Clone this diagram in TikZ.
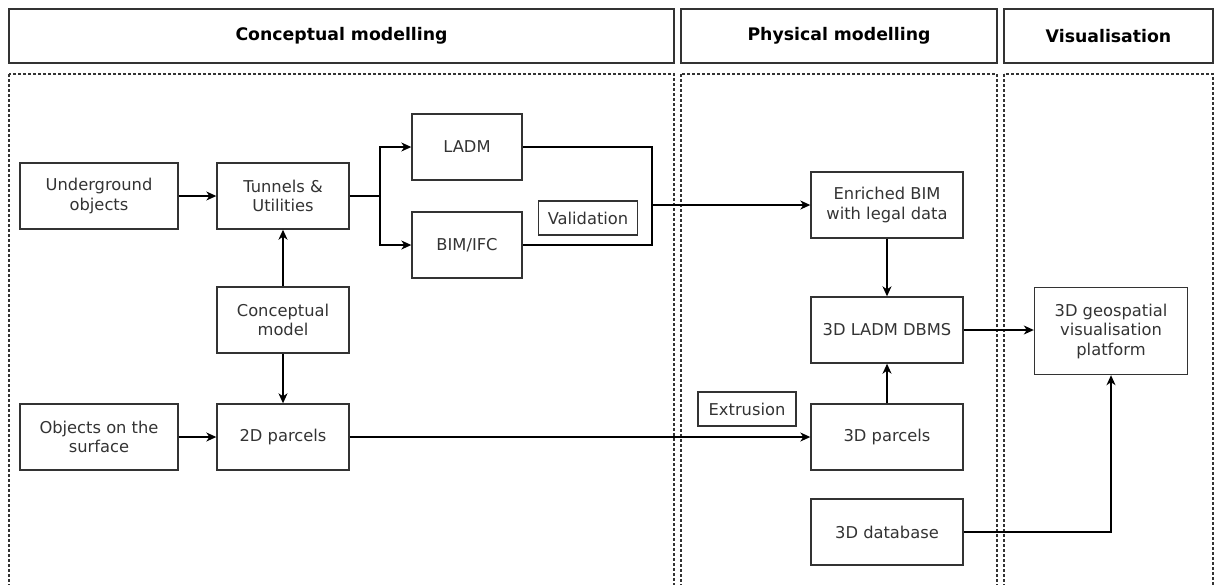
\documentclass[tikz,border=0pt]{standalone}
\usepackage{fontspec}
\setmainfont{DejaVu Sans}
\usetikzlibrary{arrows.meta}
\definecolor{ink}{HTML}{333333}
\tikzset{
  box/.style={draw=ink, line width=1.4pt, text=ink, align=center, inner sep=0pt,
    minimum width=#1, minimum height=66pt, font=\fontsize{16.3}{19.5}\selectfont},
  box/.default=152,
  tag/.style={draw=ink, line width=1.4pt, text=ink, inner sep=0pt,
    minimum width=#1, minimum height=34pt, font=\fontsize{16.3}{19.5}\selectfont},
  hdr/.style={draw=ink, line width=1.5pt, inner sep=0pt, minimum width=#1,
    minimum height=54pt, font=\fontsize{17.3}{20}\selectfont\bfseries},
  lane/.style={draw=ink, line width=1.1pt, dash pattern=on 3pt off 2pt},
  arr/.style={-{Stealth[length=10pt,width=9pt,inset=3pt]}, line width=1.3pt},
  ln/.style={line width=1.3pt}
}
\begin{document}
\begin{tikzpicture}[x=1pt,y=-1pt]
    \useasboundingbox (0,0) rectangle (1214,584);
    \clip (0,0) rectangle (1214,584);
    \node[hdr=665] (hC) at (341.5,36) {Conceptual modelling};
    \node[hdr=316] (hP) at (839,36) {Physical modelling};
    \node[hdr=209] (hV) at (1108.5,36) {Visualisation};
    \draw[lane] (9,74) rectangle (674,600);
    \draw[lane] (681,74) rectangle (997,600);
    \draw[lane] (1004,74) rectangle (1213,600);

    \node[box=158] (und) at (99,196) {Underground\\objects};
    \node[box=158] (obj) at (99,437) {Objects on the\\surface};
    \node[box=132] (tun) at (283,196) {Tunnels \&\\Utilities};
    \node[box=132] (cm) at (283,320) {Conceptual\\model};
    \node[box=132] (p2d) at (283,437) {2D parcels};
    \node[box=110] (ladm) at (467,147) {LADM};
    \node[box=110] (bim) at (467,245) {BIM/IFC};
    \node[tag=99] (val) at (588,218) {Validation};
    \node[box] (enr) at (887,205) {Enriched BIM\\with legal data};
    \node[box] (dbms) at (887,330) {3D LADM DBMS};
    \node[tag=98] (ext) at (747,409) {Extrusion};
    \node[box] (p3d) at (887,437) {3D parcels};
    \node[box] (db3d) at (887,532) {3D database};
    \node[box=153, minimum height=87pt] (geo) at (1111,331) {3D geospatial\\visualisation\\platform};

    \coordinate (split) at (380,196);
    \coordinate (join) at (652,205);

    \draw[arr] (und) -- (tun);
    \draw[arr] (obj) -- (p2d);
    \draw[arr] (cm) -- (tun);
    \draw[arr] (cm) -- (p2d);
    \draw[ln] (tun) -- (split);
    \draw[arr] (split) |- (ladm);
    \draw[arr] (split) |- (bim);
    \draw[ln] (ladm) -| (join) |- (bim);
    \draw[arr] (join) -- (enr);
    \draw[arr] (p2d) -- (p3d);
    \draw[arr] (enr) -- (dbms);
    \draw[arr] (p3d) -- (dbms);
    \draw[arr] (dbms) -- (geo.west |- dbms);
    \draw[arr] (db3d) -| (geo);
\end{tikzpicture}
\end{document}
